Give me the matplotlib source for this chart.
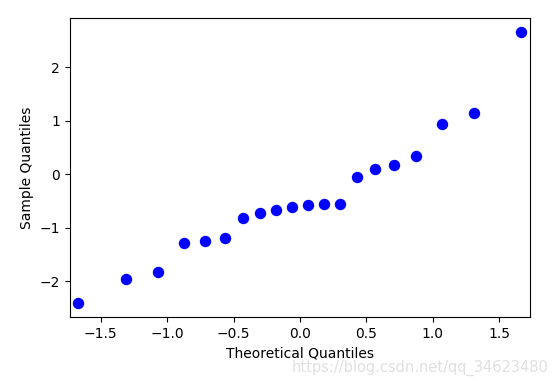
import matplotlib
matplotlib.use("Agg")
from matplotlib import pyplot as plt

# theoretical quantiles (x) and sample quantiles (y)
theoretical = [-1.668, -1.309, -1.068, -0.876, -0.712, -0.566, -0.431, -0.303, -0.180, -0.060,
               0.060, 0.180, 0.303, 0.431, 0.566, 0.712, 0.876, 1.068, 1.309, 1.668]
sample = [-2.41, -1.95, -1.82, -1.28, -1.25, -1.18, -0.82, -0.72, -0.665, -0.615,
          -0.565, -0.56, -0.56, -0.05, 0.105, 0.18, 0.335, 0.945, 1.15, 2.66]

fig = plt.figure(figsize=(5.57, 3.81), dpi=100)
ax = fig.add_axes([0.125, 0.168, 0.827, 0.784])
ax.plot(theoretical, sample, 'o', color='blue', markersize=7.2)
ax.set_xmargin(0.02)
ax.autoscale_view()
ax.set_xlabel('Theoretical Quantiles', fontsize=10)
ax.set_ylabel('Sample Quantiles', fontsize=10)
ax.tick_params(labelsize=10)

fig.text(0.985, 0.035, 'https://blog.csdn.net/qq_34623480', ha='right', va='center',
         fontsize=10.5, color='#e0e0e0')

fig.savefig('out.png', dpi=100)
